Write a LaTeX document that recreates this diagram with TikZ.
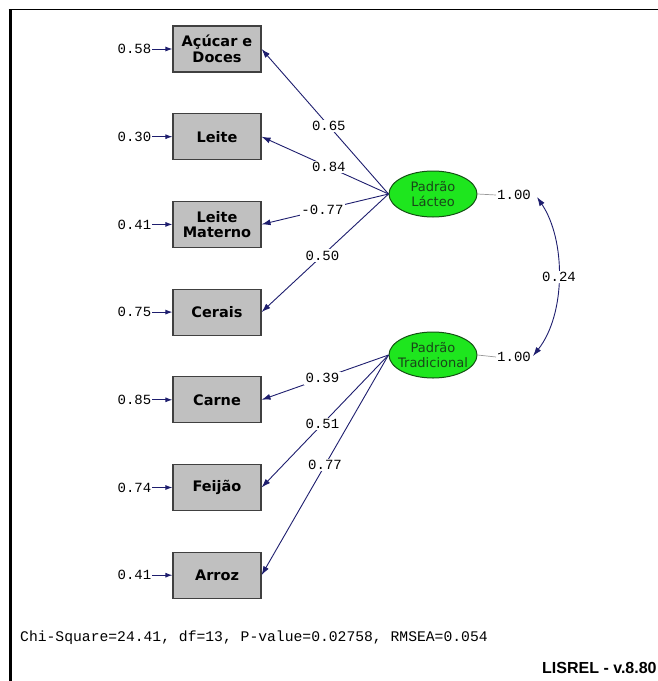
\documentclass[tikz,border=0pt]{standalone}
\usepackage{fontspec}
\usetikzlibrary{arrows.meta,shapes.geometric}
\newfontfamily\boxfont{DejaVu Sans}
\newfontfamily\numfont{Liberation Mono}
\newfontfamily\brandfont{Liberation Sans}
\definecolor{pathblue}{RGB}{30,30,110}
\definecolor{latgreen}{RGB}{30,230,30}
\definecolor{latedge}{RGB}{20,80,20}
\definecolor{lattext}{RGB}{25,70,25}
\definecolor{obsgray}{RGB}{192,192,192}
\begin{document}
\begin{tikzpicture}[x=1pt,y=-1pt,
  obsbox/.style={draw=black!75,line width=1.1pt,fill=obsgray,minimum width=88pt,
    minimum height=46pt,inner sep=1pt,align=center,
    font=\boxfont\fontsize{14.5}{15.5}\selectfont\bfseries},
  latent/.style={ellipse,draw=latedge,line width=1pt,fill=latgreen,minimum width=88pt,
    minimum height=46pt,inner xsep=-4pt,inner ysep=0pt,align=center,text=lattext,
    font=\boxfont\fontsize{13}{14.5}\selectfont},
  num/.style={font=\numfont\fontsize{14}{15}\selectfont,inner sep=1pt},
  load/.style={draw=pathblue,line width=0.9pt,-{Latex[length=9pt,width=6pt]}},
  loadlbl/.style={num,fill=white,inner sep=1.5pt,pos=0.52},
  errarrow/.style={draw=pathblue,line width=1pt,-{Latex[length=7pt,width=5pt]}},
  varline/.style={draw=black!40,line width=0.7pt},
]
\useasboundingbox (0,0) rectangle (658,681);
% frame
\draw[line width=3pt] (10,681) -- (10,9.5);
\draw[line width=1.6pt] (8.5,9.5) -- (658,9.5);

% observed variables
\node[obsbox] (acu) at (217,49)    {Açúcar e\\Doces};
\node[obsbox] (lei) at (217,136.7) {Leite};
\node[obsbox] (lmt) at (217,224.4) {Leite\\Materno};
\node[obsbox] (cer) at (217,312.1) {Cerais};
\node[obsbox] (car) at (217,399.8) {Carne};
\node[obsbox] (fei) at (217,487.5) {Feijão};
\node[obsbox] (arr) at (217,575.2) {Arroz};

% error variances
\foreach \b/\v in {acu/0.58,lei/0.30,lmt/0.41,cer/0.75,car/0.85,fei/0.74,arr/0.41}{
  \node[num,anchor=east] (e\b) at ([xshift=-20pt]\b.west) {\v};
  \draw[errarrow] (e\b.east) -- (\b.west);
}

% latent factors
\node[latent] (lac) at (433,194) {Padrão\\Lácteo};
\node[latent] (tra) at (433,355) {Padrão\\Tradicional};

% factor loadings
\draw[load] (lac.west) -- node[loadlbl,pos=0.47] {0.65} (acu.east);
\draw[load] (lac.west) -- node[loadlbl,pos=0.47] {0.84} (lei.east);
\draw[load] (lac.west) -- node[loadlbl] {-0.77} (lmt.east);
\draw[load] (lac.west) -- node[loadlbl] {0.50} (cer.east);
\draw[load] (tra.west) -- node[loadlbl] {0.39} (car.east);
\draw[load] (tra.west) -- node[loadlbl] {0.51} (fei.east);
\draw[load] (tra.west) -- node[loadlbl,pos=0.5] {0.77} (arr.east);

% factor variances
\node[num,anchor=west] (vlac) at (496,195) {1.00};
\node[num,anchor=west] (vtra) at (496,357) {1.00};
\draw[varline] (lac.east) -- (vlac.west);
\draw[varline] (tra.east) -- (vtra.west);

% factor covariance
\coordinate (cvtop) at (537,197);
\coordinate (cvbot) at (533,356);
\draw[draw=pathblue,line width=0.9pt,{Latex[length=9pt,width=6pt]}-{Latex[length=9pt,width=6pt]}]
  (cvtop) .. controls (566,240) and (566,314) .. (cvbot);
\node[num,fill=white] (cov) at (559,277) {0.24};

% fit statistics
\node[num,anchor=west,font=\numfont\fontsize{14.7}{16}\selectfont] (fit) at (19,638)
  {Chi-Square=24.41, df=13, P-value=0.02758, RMSEA=0.054};
\node[anchor=west,inner sep=0pt,font=\brandfont\fontsize{16}{17}\selectfont\bfseries] (ver) at (542,668)
  {LISREL - v.8.80};
\end{tikzpicture}
\end{document}
